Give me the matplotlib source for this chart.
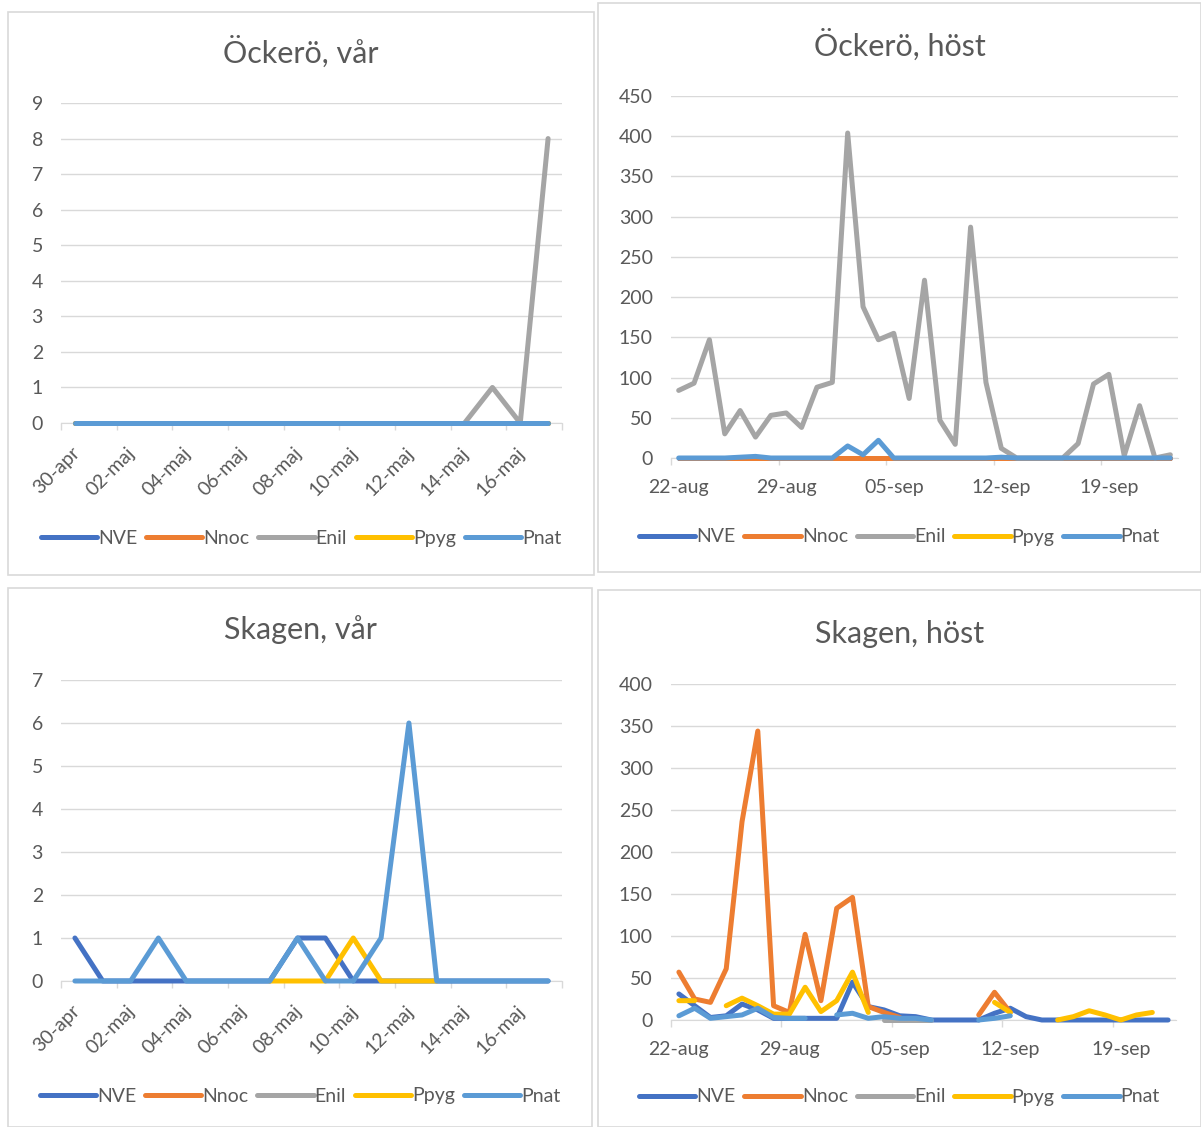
import matplotlib.pyplot as plt
import numpy as np
from matplotlib.patches import Rectangle
from matplotlib.transforms import ScaledTranslation

nan = np.nan

plt.rcParams.update({
    "font.family": ["Lato", "DejaVu Sans"],
    "font.size": 14,
})

# --- data ---
series = ["NVE", "Nnoc", "Enil", "Ppyg", "Pnat"]
colors = ["#4472C4", "#ED7D31", "#A5A5A5", "#FFC000", "#5B9BD5"]

spring_dates = ["30-apr", "01-maj", "02-maj", "03-maj", "04-maj", "05-maj", "06-maj", "07-maj", "08-maj",
                "09-maj", "10-maj", "11-maj", "12-maj", "13-maj", "14-maj", "15-maj", "16-maj", "17-maj"]
autumn_dates = ["22-aug", "23-aug", "24-aug", "25-aug", "26-aug", "27-aug", "28-aug", "29-aug", "30-aug",
                "31-aug", "01-sep", "02-sep", "03-sep", "04-sep", "05-sep", "06-sep", "07-sep", "08-sep",
                "09-sep", "10-sep", "11-sep", "12-sep", "13-sep", "14-sep", "15-sep", "16-sep", "17-sep",
                "18-sep", "19-sep", "20-sep", "21-sep", "22-sep", "23-sep"]

# Öckerö, vår
ock_var_nve = [0] * 18
ock_var_nnoc = [0] * 18
ock_var_enil = [nan] * 14 + [0, 1, 0, 8]
ock_var_ppyg = [0] * 18
ock_var_pnat = [0] * 18

# Öckerö, höst (22-aug .. 23-sep)
ock_host_nve = [0] * 33
ock_host_nnoc = [0] * 33
ock_host_enil = [84, 93, 147, 30, 59, 26, 53, 56, 38, 88, 94, 404, 188, 147, 155, 74, 221, 47, 17, 287,
                 94, 12, 0, 0, 0, 0, 18, 92, 104, 3, 65, 0, 4]
ock_host_ppyg = [nan] * 33
ock_host_pnat = [0, 0, 0, 0, 1, 2, 0, 0, 0, 0, 0, 15, 4, 22, 0, 0, 0, 0, 0, 0,
                 0, 1, 0, 0, 0, 0, 0, 0, 0, 0, 0, 0, 0]

# Skagen, vår
ska_var_nve = [1, 0, 0, 0, 0, 0, 0, 0, 1, 1, 0, 0, 0, 0, 0, 0, 0, 0]
ska_var_nnoc = [nan] * 18
ska_var_enil = [nan] * 18
ska_var_ppyg = [nan, nan, nan, nan, nan, nan, nan, 0, 0, 0, 1, 0, 0, 0, nan, nan, nan, nan]
ska_var_pnat = [0, 0, 0, 1, 0, 0, 0, 0, 1, 0, 0, 1, 6, 0, 0, 0, 0, 0]

# Skagen, höst (22-aug .. 22-sep)
ska_host_nve = [31, 17, 3, 5, 19, 12, 2, 2, 2, 2, 2, 45, 16, 12, 5, 4, 0, 0, 0, 0,
                8, 14, 4, 0, 0, 0, 0, 0, 0, 0, 0, 0]
ska_host_nnoc = [57, 25, 21, 61, 236, 344, 17, 9, 102, 23, 133, 146, 16, 9, 3, nan, nan, nan, nan, 6,
                 33, 9, nan, nan, nan, nan, nan, nan, nan, nan, nan, nan]
ska_host_enil = [nan] * 13 + [0, 0, 0, 0] + [nan] * 15
ska_host_ppyg = [23, 23, nan, 17, 26, 17, 7, 7, 39, 10, 23, 57, 9, nan, nan, nan, nan, nan, nan, nan,
                 21, 9, nan, nan, 0, 4, 11, 6, 0, 6, 9, nan]
ska_host_pnat = [5, 14, 2, 4, 6, 14, 3, 2, 2, nan, 6, 8, 2, 4, 2, 2, 0, nan, nan, 0,
                 2, 5, nan, nan, nan, nan, nan, nan, nan, nan, nan, nan]

W, H = 1201, 1127
TXT = "#595959"
GRID = "#D9D9D9"

fig = plt.figure(figsize=(W / 100, H / 100), dpi=100)


def frac(x0, y0, x1, y1):
    return [x0 / W, 1 - y1 / H, (x1 - x0) / W, (y1 - y0) / H]


def panel(box, plot, title, title_y, legend_y, data, labels, ymax, ystep, spring):
    bx0, by0, bx1, by1 = box
    fig.patches.append(Rectangle((bx0 / W, 1 - by1 / H), (bx1 - bx0) / W, (by1 - by0) / H,
                                 transform=fig.transFigure, fill=False, edgecolor=GRID, lw=1.2))
    fig.text((bx0 + bx1) / 2 / W, 1 - title_y / H, title, ha="center", va="center",
             fontsize=22, color=TXT)
    ax = fig.add_axes(frac(*plot))
    n = len(labels)
    x = np.arange(n)
    handles = []
    for vals, name, c in zip(data, series, colors):
        h, = ax.plot(x, vals, color=c, lw=3.6, solid_capstyle="round",
                     solid_joinstyle="round", clip_on=False, zorder=3, label=name)
        handles.append(h)
    ax.set_xlim(-0.5, n - 0.5)
    ax.set_ylim(0, ymax)
    ax.set_yticks(np.arange(0, ymax + 1, ystep))
    ax.yaxis.grid(True, color=GRID, lw=1)
    ax.set_axisbelow(True)
    for s in ["left", "right", "top"]:
        ax.spines[s].set_visible(False)
    ax.spines["bottom"].set_color(GRID)
    ax.tick_params(axis="y", length=0, pad=13, labelsize=14, labelcolor=TXT)
    step = 2 if spring else 7
    ax.set_xticks(np.arange(0, n, step))
    ax.set_xticks(np.arange(-0.5, n, step), minor=True)
    ax.tick_params(axis="x", which="minor", length=5, color=GRID, width=1)
    if spring:
        ax.tick_params(axis="x", which="major", length=0, labelsize=14, labelcolor=TXT, pad=15)
        ax.set_xticklabels(labels[::step], rotation=45, ha="right", rotation_mode="anchor")
        shift = ScaledTranslation(-4 / 100, 0, fig.dpi_scale_trans)
        for lab in ax.get_xticklabels():
            lab.set_transform(lab.get_transform() + shift)
    else:
        ax.tick_params(axis="x", which="major", length=0, labelsize=14, labelcolor=TXT, pad=15)
        ax.set_xticklabels(labels[::step])
    ax.legend(handles=handles, loc="center", bbox_to_anchor=((bx0 + bx1) / 2 / W, 1 - legend_y / H),
              bbox_transform=fig.transFigure, ncol=5, frameon=False, fontsize=14,
              handlelength=2.9, handletextpad=0.05, columnspacing=0.45, labelcolor=TXT)
    return ax


panel((8, 12, 594, 575), (61, 103, 562, 423), "Öckerö, vår", 52, 538,
      [ock_var_nve, ock_var_nnoc, ock_var_enil, ock_var_ppyg, ock_var_pnat],
      spring_dates, 9, 1, True)
panel((598, 3, 1201, 572), (671, 96, 1178, 458), "Öckerö, höst", 45, 537,
      [ock_host_nve, ock_host_nnoc, ock_host_enil, ock_host_ppyg, ock_host_pnat],
      autumn_dates, 450, 50, False)
panel((8, 588, 592, 1127), (61, 680, 562, 981), "Skagen, vår", 630, 1096,
      [ska_var_nve, ska_var_nnoc, ska_var_enil, ska_var_ppyg, ska_var_pnat],
      spring_dates, 7, 1, True)
panel((598, 590, 1201, 1127), (671, 684, 1176, 1020), "Skagen, höst", 634, 1097,
      [ska_host_nve, ska_host_nnoc, ska_host_enil, ska_host_ppyg, ska_host_pnat],
      autumn_dates[:32], 400, 50, False)

plt.savefig("out.png", dpi=100)
